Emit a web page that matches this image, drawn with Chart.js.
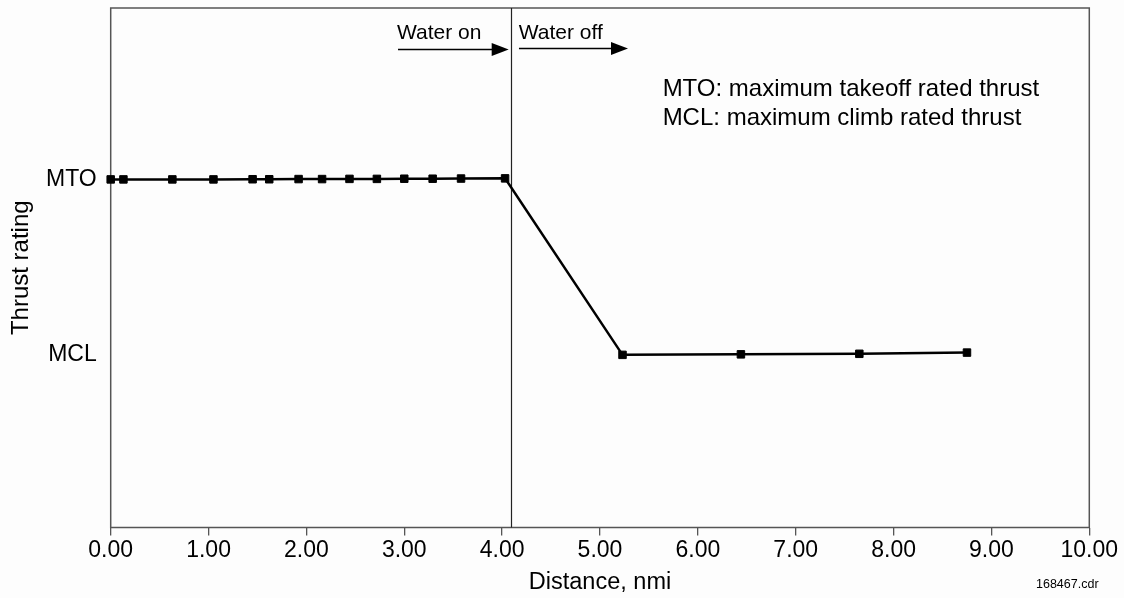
<!DOCTYPE html>
<html>
<head>
<meta charset="utf-8">
<script src="https://cdn.jsdelivr.net/npm/chart.js@4.4.1/dist/chart.umd.min.js"></script>
<style>
  html, body { margin: 0; padding: 0; background: #fdfdfd; }
  #wrap { width: 1124px; height: 598px; }
</style>
</head>
<body>
<div id="wrap"><canvas id="c" width="1124" height="598"></canvas></div>
<script>
// Thrust-rating schedule along the takeoff path
const distanceNmi = [0.00, 0.13, 0.63, 1.05, 1.45, 1.62, 1.92, 2.16, 2.44, 2.72, 3.00, 3.29, 3.58, 4.03,
                     5.23, 6.44, 7.65, 8.75];
const thrustLevel = [2.000, 2.000, 2.000, 2.000, 2.001, 2.001, 2.002, 2.002, 2.003, 2.003, 2.004, 2.004, 2.005, 2.006,
                     0.997, 1.000, 1.003, 1.010];

// Y-axis rating levels and their names
const ratingValues = [1, 2];
const ratingLabels = ['MCL', 'MTO'];

// X-axis ticks
const xTicks = [0, 1, 2, 3, 4, 5, 6, 7, 8, 9, 10];

// Water injection switch point and notes
const waterOffAt = 4.09;
const notes = [
  'MTO: maximum takeoff rated thrust',
  'MCL: maximum climb rated thrust'
];

const FONT = 'Arial, "Liberation Sans", Helvetica, sans-serif';

const annotations = {
  id: 'annotations',
  beforeDatasetsDraw(chart) {
    const { ctx, chartArea: a, scales: { x } } = chart;
    ctx.save();

    // plot frame
    ctx.strokeStyle = '#555';
    ctx.lineWidth = 1.5;
    ctx.strokeRect(a.left, a.top, a.right - a.left, a.bottom - a.top);

    // water on/off boundary
    const wx = Math.round(x.getPixelForValue(waterOffAt)) + 0.5;
    ctx.strokeStyle = '#222';
    ctx.lineWidth = 1.2;
    ctx.beginPath();
    ctx.moveTo(wx, a.top);
    ctx.lineTo(wx, a.bottom);
    ctx.stroke();
    ctx.restore();
  },
  afterDraw(chart) {
    const { ctx, scales: { x } } = chart;
    ctx.save();

    // arrows
    const arrow = (x0, x1, py) => {
      const p0 = x.getPixelForValue(x0), p1 = x.getPixelForValue(x1);
      ctx.strokeStyle = '#000';
      ctx.fillStyle = '#000';
      ctx.lineWidth = 1.6;
      ctx.beginPath();
      ctx.moveTo(p0, py);
      ctx.lineTo(p1 - 14, py);
      ctx.stroke();
      ctx.beginPath();
      ctx.moveTo(p1, py);
      ctx.lineTo(p1 - 17, py - 6.5);
      ctx.lineTo(p1 - 17, py + 6.5);
      ctx.closePath();
      ctx.fill();
    };
    arrow(2.936, 4.067, 49.5);
    arrow(4.172, 5.286, 48.5);

    ctx.fillStyle = '#000';
    ctx.textBaseline = 'alphabetic';
    ctx.textAlign = 'left';
    ctx.font = '21px ' + FONT;
    ctx.fillText('Water on', x.getPixelForValue(2.925), 39);
    ctx.fillText('Water off', x.getPixelForValue(4.17), 39);

    ctx.font = '24px ' + FONT;
    notes.forEach((t, i) => {
      ctx.fillText(t, x.getPixelForValue(5.64), 96 + i * 29);
    });

    ctx.font = '12.5px ' + FONT;
    ctx.fillText('168467.cdr', 1036, 588);

    ctx.restore();
  }
};

new Chart(document.getElementById('c'), {
  type: 'line',
  data: {
    datasets: [{
      data: distanceNmi.map((d, i) => ({ x: d, y: thrustLevel[i] })),
      borderColor: '#000',
      borderWidth: 2.5,
      backgroundColor: '#000',
      pointStyle: 'rect',
      pointRadius: 5.3,
      pointBorderWidth: 1,
      pointBorderColor: '#000',
      pointBackgroundColor: '#000',
      tension: 0,
      fill: false,
      clip: false
    }]
  },
  options: {
    responsive: false,
    animation: false,
    devicePixelRatio: 1,
    layout: { autoPadding: false, padding: { top: 8, right: 34.7, left: 0, bottom: 0 } },
    plugins: { legend: { display: false }, tooltip: { enabled: false } },
    scales: {
      x: {
        type: 'linear',
        min: 0,
        max: 10,
        afterFit(scale) {
          scale.height = 70.5;
          scale.paddingLeft = 0;
          scale.paddingRight = 0;
        },
        afterBuildTicks(scale) { scale.ticks = xTicks.map(v => ({ value: v })); },
        border: { display: false },
        grid: { drawOnChartArea: false, drawTicks: true, tickLength: 8, color: '#555', lineWidth: 1.3 },
        ticks: {
          color: '#000',
          padding: 1,
          maxRotation: 0,
          autoSkip: false,
          font: { family: FONT, size: 23 },
          callback: v => v.toFixed(2)
        },
        title: {
          display: true,
          text: 'Distance, nmi',
          color: '#000',
          font: { family: FONT, size: 23.5, lineHeight: 1.2 },
          padding: { top: 0, bottom: 1 }
        }
      },
      y: {
        type: 'linear',
        min: 0.01,
        max: 2.98,
        afterFit(scale) {
          scale.width = 110.7;
          scale.paddingTop = 0;
          scale.paddingBottom = 0;
        },
        afterBuildTicks(scale) { scale.ticks = ratingValues.map(v => ({ value: v })); },
        border: { display: false },
        grid: { display: false, drawTicks: false },
        ticks: {
          color: '#000',
          padding: 14,
          font: { family: FONT, size: 23 },
          callback: v => ratingLabels[ratingValues.indexOf(v)]
        },
        title: {
          display: true,
          text: 'Thrust rating',
          color: '#000',
          font: { family: FONT, size: 24, lineHeight: 1.2 },
          padding: { top: 7, bottom: 0 }
        }
      }
    }
  },
  plugins: [annotations]
});
</script>
</body>
</html>
